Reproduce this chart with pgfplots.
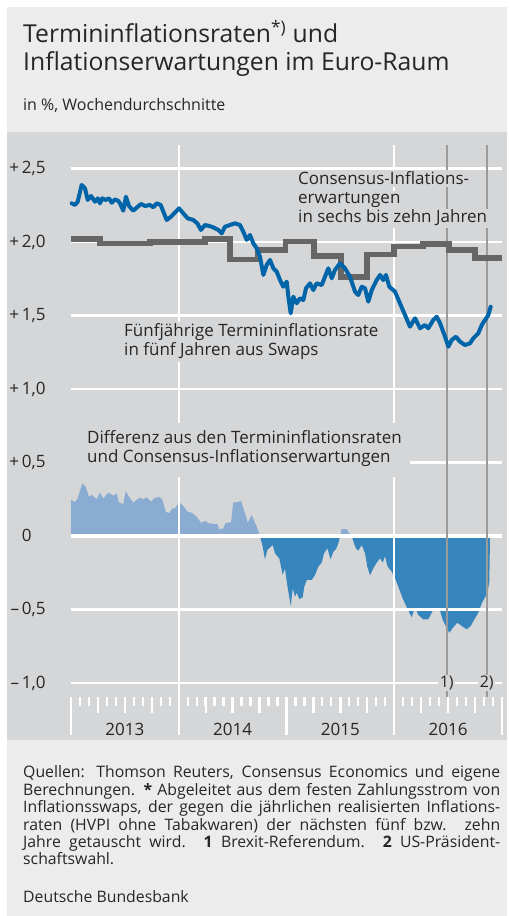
\documentclass[border=0pt]{standalone}
\usepackage{pgfplots}
\pgfplotsset{compat=1.18}
\usepackage{fontspec}
\setmainfont{Open Sans}
\definecolor{panel}{HTML}{D5D6D8}
\definecolor{lightbg}{HTML}{ECECED}
\definecolor{bline}{HTML}{0064A8}
\definecolor{gline}{HTML}{666666}
\definecolor{posarea}{HTML}{8AABD2}
\definecolor{negarea}{HTML}{3685BC}
\definecolor{evline}{HTML}{9A9A9A}
\definecolor{txt}{HTML}{262626}
\newcommand{\lab}{\fontsize{17bp}{19bp}\selectfont}
\newcommand{\foot}{\fontsize{15.8bp}{17bp}\selectfont}
\begin{document}
\begin{tikzpicture}[x=1bp,y=1bp]
\useasboundingbox (0,0) rectangle (510,916);
\fill[white] (0,0) rectangle (510,916);
\fill[lightbg] (7,0) rectangle (507,909);
\fill[panel] (7,176) rectangle (507,784);
% title
\node[anchor=base west, inner sep=0, text=txt, font=\fontsize{24.7bp}{28bp}\selectfont] at (23,873) {Termininflationsraten\textsuperscript{*)} und};
\node[anchor=base west, inner sep=0, text=txt, font=\fontsize{24.7bp}{28bp}\selectfont] at (23,845) {Inflationserwartungen im Euro-Raum};
\node[anchor=base west, inner sep=0, text=txt, font=\fontsize{16bp}{18bp}\selectfont] at (23,805) {in \%, Wochendurchschnitte};
\begin{axis}[
  at={(71bp,219bp)}, anchor=south west,
  scale only axis, width=431bp, height=552bp,
  xmin=2013, xmax=2017, ymin=-1.0952, ymax=2.66,
  axis line style={draw=none},
  clip=false,
  xtick={2013,2013.25,...,2017}, xticklabels={},
  minor xtick={2013.08333,2013.16667,...,2017},
  extra x ticks={2013,2014,2015,2016,2017}, extra x tick labels={},
  extra x tick style={major tick length=38bp},
  xtick pos=bottom, tick align=outside,
  major tick length=16bp, minor tick length=9bp,
  xtick style={white, line width=2.3bp},
  minor tick style={white, line width=2.3bp},
  ytick={-1,-0.5,0,0.5,1,1.5,2,2.5},
  yticklabels={{–\,1,0},{–\,0,5},{0\phantom{,0}},{+\,0,5},{+\,1,0},{+\,1,5},{+\,2,0},{+\,2,5}},
  ytick style={draw=none}, ytick pos=left,
  yticklabel style={anchor=east, inner sep=0pt, xshift=-9.3bp, text=txt, font=\lab},
]
% difference, positive part
\addplot[fill=posarea, draw=none] table {
2013.000 0
2013.000 0.245
2013.006 0.245
2013.037 0.229
2013.062 0.256
2013.105 0.358
2013.136 0.335
2013.167 0.267
2013.192 0.279
2013.239 0.250
2013.269 0.295
2013.300 0.256
2013.346 0.295
2013.393 0.274
2013.424 0.290
2013.445 0.227
2013.485 0.218
2013.508 0.306
2013.538 0.267
2013.578 0.227
2013.610 0.245
2013.640 0.261
2013.671 0.250
2013.703 0.263
2013.742 0.233
2013.773 0.256
2013.817 0.267
2013.847 0.250
2013.879 0.165
2013.910 0.154
2013.940 0.188
2013.965 0.188
2014.005 0.229
2014.042 0.204
2014.083 0.165
2014.120 0.159
2014.167 0.131
2014.206 0.090
2014.244 0.102
2014.281 0.086
2014.336 0.082
2014.361 0.079
2014.376 0.046
2014.413 0.052
2014.436 0.090
2014.485 0.093
2014.506 0.229
2014.538 0.229
2014.578 0.238
2014.615 0.154
2014.640 0.090
2014.677 0.143
2014.723 0.063
2014.745 0.022
2014.754 0
2015.497 0
2015.512 0.046
2015.559 0.046
2015.583 0.018
2015.605 0
};
% difference, negative part
\addplot[fill=negarea, draw=none] table {
2014.754 0
2014.779 -0.073
2014.800 -0.159
2014.822 -0.095
2014.853 -0.073
2014.872 -0.061
2014.893 -0.118
2014.933 -0.152
2014.965 -0.265
2014.986 -0.220
2015.007 -0.333
2015.039 -0.476
2015.058 -0.356
2015.079 -0.413
2015.095 -0.386
2015.119 -0.429
2015.150 -0.417
2015.165 -0.345
2015.188 -0.299
2015.234 -0.299
2015.265 -0.265
2015.295 -0.209
2015.327 -0.181
2015.348 -0.118
2015.379 -0.084
2015.410 -0.159
2015.434 -0.107
2015.459 -0.090
2015.481 -0.050
2015.497 0
2015.605 0
2015.626 -0.050
2015.645 -0.084
2015.666 -0.100
2015.698 -0.061
2015.729 -0.118
2015.750 -0.209
2015.775 -0.268
2015.806 -0.220
2015.837 -0.181
2015.868 -0.152
2015.893 -0.181
2015.914 -0.136
2015.936 -0.204
2015.976 -0.243
2016.007 -0.288
2016.038 -0.345
2016.078 -0.424
2016.116 -0.485
2016.162 -0.553
2016.193 -0.485
2016.223 -0.537
2016.270 -0.567
2016.316 -0.567
2016.357 -0.508
2016.394 -0.499
2016.425 -0.508
2016.450 -0.571
2016.480 -0.617
2016.511 -0.658
2016.548 -0.621
2016.585 -0.590
2016.626 -0.612
2016.672 -0.635
2016.710 -0.612
2016.740 -0.571
2016.780 -0.522
2016.812 -0.458
2016.842 -0.417
2016.864 -0.390
2016.882 -0.311
2016.889 0
};
% grid
\pgfplotsinvokeforeach{-1,-0.5,0.5,1,1.5,2,2.5}{
  \draw[white, line width=2.4bp] (axis cs:2013,#1) -- (axis cs:2017,#1);
}
\draw[white, line width=4.8bp] (axis cs:2013,0) -- (axis cs:2017,0);
\draw[white, line width=2.4bp] (axis cs:2014,-1.0952) -- (axis cs:2014,2.66);
\draw[white, line width=2.4bp] (axis cs:2016,-1.0952) -- (axis cs:2016,2.66);
% events
\draw[evline, line width=2.3bp] (axis cs:2016.487,-1.0952) -- (axis cs:2016.487,2.66);
\draw[evline, line width=2.3bp] (axis cs:2016.858,-1.0952) -- (axis cs:2016.858,2.66);
% consensus
\addplot[const plot, gline, line width=5.5bp] table {
2013.000 2.020
2013.269 1.990
2013.733 2.000
2014.244 2.020
2014.476 1.880
2014.735 1.945
2014.990 2.003
2015.255 1.905
2015.506 1.762
2015.747 1.915
2015.998 1.970
2016.267 1.985
2016.508 1.945
2016.750 1.890
2017.000 1.890
};
% five-year forward
\addplot[bline, line width=4bp, line join=round, line cap=round] table {
2013.006 2.263
2013.037 2.252
2013.062 2.274
2013.099 2.388
2013.130 2.365
2013.155 2.286
2013.186 2.313
2013.223 2.274
2013.248 2.297
2013.269 2.263
2013.290 2.297
2013.322 2.286
2013.353 2.297
2013.378 2.267
2013.408 2.290
2013.439 2.279
2013.455 2.263
2013.485 2.213
2013.510 2.308
2013.538 2.245
2013.578 2.213
2013.619 2.240
2013.650 2.259
2013.687 2.245
2013.733 2.252
2013.764 2.236
2013.795 2.263
2013.832 2.252
2013.863 2.195
2013.888 2.150
2013.928 2.172
2013.972 2.206
2014.002 2.229
2014.042 2.195
2014.083 2.161
2014.135 2.150
2014.172 2.127
2014.206 2.082
2014.244 2.116
2014.306 2.104
2014.367 2.082
2014.399 2.059
2014.429 2.104
2014.476 2.116
2014.522 2.127
2014.568 2.116
2014.599 2.070
2014.631 2.014
2014.661 2.048
2014.692 1.991
2014.723 1.957
2014.754 1.900
2014.785 1.776
2014.816 1.844
2014.847 1.878
2014.878 1.821
2014.909 1.798
2014.940 1.741
2014.970 1.696
2015.002 1.730
2015.017 1.628
2015.039 1.515
2015.063 1.628
2015.095 1.583
2015.125 1.617
2015.156 1.605
2015.181 1.685
2015.218 1.719
2015.249 1.673
2015.280 1.719
2015.327 1.707
2015.357 1.764
2015.388 1.821
2015.420 1.753
2015.450 1.810
2015.497 1.855
2015.543 1.821
2015.589 1.764
2015.636 1.662
2015.666 1.639
2015.698 1.696
2015.729 1.685
2015.759 1.594
2015.791 1.673
2015.837 1.741
2015.868 1.776
2015.898 1.741
2015.923 1.776
2015.954 1.696
2016.007 1.662
2016.053 1.583
2016.100 1.503
2016.146 1.424
2016.193 1.481
2016.239 1.413
2016.285 1.435
2016.316 1.413
2016.362 1.469
2016.394 1.492
2016.425 1.447
2016.471 1.356
2016.502 1.288
2016.533 1.333
2016.573 1.356
2016.610 1.322
2016.657 1.299
2016.703 1.311
2016.734 1.345
2016.780 1.379
2016.812 1.435
2016.842 1.469
2016.873 1.503
2016.895 1.560
};
% year labels
\node[text=txt, font=\lab] at (axis cs:2013.5,-1.313) {2013};
\node[text=txt, font=\lab] at (axis cs:2014.5,-1.313) {2014};
\node[text=txt, font=\lab] at (axis cs:2015.5,-1.313) {2015};
\node[text=txt, font=\lab] at (axis cs:2016.5,-1.313) {2016};
% event labels
\node[fill=panel, inner xsep=1.5bp, inner ysep=1bp, text=txt, font=\fontsize{16bp}{18bp}\selectfont] at (axis cs:2016.487,-1.0) {1)};
\node[fill=panel, inner xsep=1.5bp, inner ysep=1bp, text=txt, font=\fontsize{16bp}{18bp}\selectfont] at (axis cs:2016.858,-1.0) {2)};
\end{axis}
% in-plot labels
\begin{scope}[every node/.style={anchor=base west, text=txt, font=\lab, fill=panel, inner xsep=2bp, inner ysep=1.5bp}]
\node at (296,731) {Consensus-Inflations-};
\node at (296,712) {erwartungen};
\node at (296,693) {in sechs bis zehn Jahren};
\node at (122,579) {Fünfjährige Termininflationsrate};
\node at (122,560) {in fünf Jahren aus Swaps};
\end{scope}
\fill[panel] (69,439) rectangle (410,493);
\node[anchor=base west, inner sep=0, text=txt, font=\lab] at (87,472) {Differenz aus den Termininflationsraten};
\node[anchor=base west, inner sep=0, text=txt, font=\lab] at (87,453) {und Consensus-Inflationserwartungen};
% footer
\begin{scope}[every node/.style={anchor=base west, inner sep=0, text=txt, font=\foot}]
\node at (23,138) {\makebox[477bp][s]{Quellen: Thomson Reuters, Consensus Economics und eigene}};
\node at (23,120.6) {\makebox[477bp][s]{Berechnungen. \textbf{*} Abgeleitet aus dem festen Zahlungsstrom von}};
\node at (23,103.2) {\makebox[477bp][s]{Inflationsswaps, der gegen die jährlichen realisierten Inflations-}};
\node at (23,85.8) {\makebox[477bp][s]{raten (HVPI ohne Tabakwaren) der nächsten fünf bzw. zehn}};
\node at (23,68.4) {\makebox[477bp][s]{Jahre getauscht wird. \textbf{1} Brexit-Referendum. \textbf{2} US-Präsident-}};
\node at (23,51) {schaftswahl.};
\node at (23,13) {Deutsche Bundesbank};
\end{scope}
\end{tikzpicture}
\end{document}
